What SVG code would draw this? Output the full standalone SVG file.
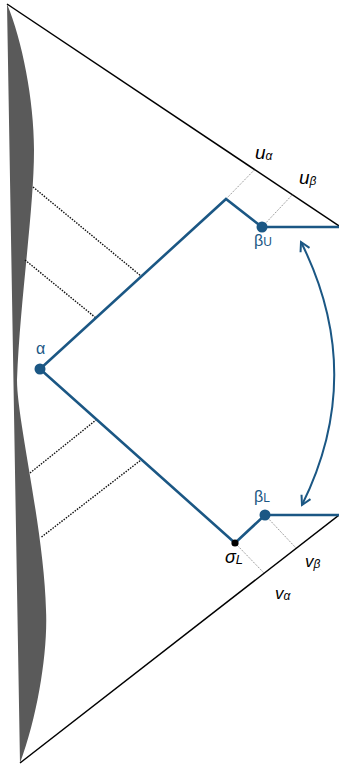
<svg xmlns="http://www.w3.org/2000/svg" width="339" height="766" viewBox="0 0 339 766">
<defs>
<style>
.bnd{stroke:#000;stroke-width:1.5;fill:none}
.dot{stroke:#111;stroke-width:1.4;stroke-dasharray:1.5,1.3;fill:none}
.tick{stroke:#8a8a8a;stroke-width:1;stroke-dasharray:1.2,1.2;fill:none}
.blue{stroke:#1b5784;stroke-width:2.6;fill:none;stroke-linejoin:miter}
.arc{stroke:#1b5784;stroke-width:2;fill:none}
.lbl{font-family:"Liberation Sans","Open Sans",sans-serif;fill:#1b5784}
.mth{font-family:"Liberation Sans","Open Sans",sans-serif;font-style:italic;fill:#000}
</style>
<marker id="chev" viewBox="-11 -7 13 14" markerWidth="13" markerHeight="14" refX="0" refY="0" orient="auto-start-reverse" markerUnits="userSpaceOnUse">
<path d="M -9,-5 L 0,0 L -9,5" stroke="#1b5784" stroke-width="2" fill="none" stroke-linejoin="miter"/>
</marker>
</defs>
<rect width="339" height="766" fill="#fff"/>
<g id="shaded-region">
<path d="M 7,4 C 22,40 34,100 34,150 C 34,210 20,300 17,380 C 17,420 44,530 46,610 C 48,650 38,715 20,763 L 7,4 Z" fill="#5a5a5a"/>
</g>
<g id="boundary">
<line class="bnd" x1="7" y1="4" x2="339" y2="226"/>
<line class="bnd" x1="20" y1="763" x2="339" y2="515"/>
</g>
<g id="dotted-lines">
<line class="dot" x1="33" y1="187" x2="141" y2="276"/>
<line class="dot" x1="25" y1="260" x2="96" y2="318"/>
<line class="dot" x1="30" y1="473" x2="96" y2="420"/>
<line class="dot" x1="41.5" y1="537" x2="141" y2="460"/>
<line class="tick" x1="226" y1="199" x2="254.6" y2="169.6"/>
<line class="tick" x1="262" y1="227" x2="292.3" y2="194.8"/>
<line class="tick" x1="235" y1="543" x2="264" y2="573"/>
<line class="tick" x1="265" y1="515" x2="296" y2="548"/>
</g>
<g id="connectors">
<path class="blue" d="M 339,227 L 262,227 L 226,199 L 40,369 L 235,543 L 265,515 L 339,515"/>
<path class="arc" d="M 301,242 Q 367,374 302,505" marker-start="url(#chev)" marker-end="url(#chev)"/>
</g>
<g id="node-alpha">
<circle cx="40" cy="369" r="5.5" fill="#1b5784"/>
<text class="lbl" x="36" y="354" font-size="16">α</text>
</g>
<g id="node-beta-U">
<circle cx="262" cy="227" r="5.5" fill="#1b5784"/>
<text class="lbl" x="254" y="246" font-size="16">β<tspan font-size="12">U</tspan></text>
</g>
<g id="node-sigma-L">
<circle cx="235" cy="543" r="3.6" fill="#000"/>
<text class="mth" x="225" y="563" font-size="18">σ<tspan font-size="13" dy="1">L</tspan></text>
</g>
<g id="node-beta-L">
<circle cx="265" cy="515" r="5.5" fill="#1b5784"/>
<text class="lbl" x="254" y="502" font-size="16">β<tspan font-size="12">L</tspan></text>
</g>
<g id="labels">
<text class="mth" x="255" y="159" font-size="19">u<tspan font-size="12" dy="1">α</tspan></text>
<text class="mth" x="299" y="184" font-size="19">u<tspan font-size="12" dy="1">β</tspan></text>
<text class="mth" x="305" y="567" font-size="17">v<tspan font-size="12" dy="1">β</tspan></text>
<text class="mth" x="275" y="599" font-size="17">v<tspan font-size="12" dy="1">α</tspan></text>
</g>
</svg>
